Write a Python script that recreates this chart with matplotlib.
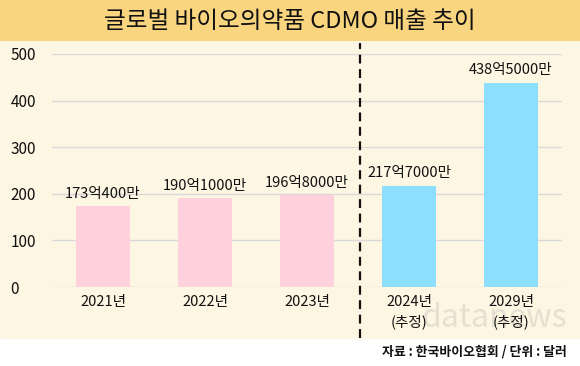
import matplotlib.pyplot as plt
from matplotlib.patches import Rectangle

plt.rcParams["font.family"] = ["Noto Sans CJK KR", "DejaVu Sans"]

years = ["2021년", "2022년", "2023년", "2024년\n(추정)", "2029년\n(추정)"]
sales = [173.04, 190.1, 196.8, 217.7, 438.5]
value_labels = ["173억400만", "190억1000만", "196억8000만", "217억7000만", "438억5000만"]
bar_colors = ["#FFD1DC", "#FFD1DC", "#FFD1DC", "#8CDFFF", "#8CDFFF"]
yticks = [0, 100, 200, 300, 400, 500]

W, H = 580, 366
fig = plt.figure(figsize=(W / 100, H / 100), dpi=100)
fig.patch.set_facecolor("white")

# cream panel and title banner
fig.patches.append(Rectangle((0, (H - 338) / H), 1, (338 - 42) / H,
                             transform=fig.transFigure, color="#FDF6E3", zorder=-2))
fig.patches.append(Rectangle((0, (H - 40) / H), 1, 40 / H,
                             transform=fig.transFigure, color="#F9D57F", zorder=-2))
fig.text(0.5, (H - 21) / H, "글로벌 바이오의약품 CDMO 매출 추이", ha="center", va="center",
         fontsize=17, fontweight="medium", color="#111111")

# faint watermark
fig.text(494 / W, (H - 318) / H, "datanews", ha="center", va="center",
         fontsize=23, color="#E6E0D2", zorder=-1)

ax = fig.add_axes([52 / W, (H - 287) / H, (562 - 52) / W, (287 - 54) / H])
ax.set_facecolor("none")
x = list(range(len(years)))
ax.bar(x, sales, width=0.52, color=bar_colors, zorder=2)
for xi, v, lab in zip(x, sales, value_labels):
    ax.text(xi, v + 12, lab, ha="center", va="bottom", fontsize=10.5,
            fontweight="medium", color="#111111")

ax.set_xlim(-0.5, 4.5)
ax.set_ylim(0, 500)
ax.set_yticks(yticks)
ax.set_yticklabels([str(t) for t in yticks], fontsize=11, fontweight="medium",
                   color="#111111", ha="left")
ax.set_xticks(x)
ax.set_xticklabels(years, fontsize=10.5, fontweight="medium", color="#111111",
                   linespacing=1.45)
ax.tick_params(axis="both", length=0)
ax.tick_params(axis="y", pad=30)
ax.tick_params(axis="x", pad=6)
ax.grid(axis="y", color="#D9D9D9", linewidth=1, zorder=1)
for s in ax.spines.values():
    s.set_visible(False)

# dashed divider between actual and estimate
ax.plot([2.52, 2.52], [-109, 523], color="#111111",
        linestyle=(0, (4, 2.5)), linewidth=1.6, clip_on=False, zorder=3)

fig.text(567 / W, (H - 352) / H, "자료 : 한국바이오협회 / 단위 : 달러", ha="right", va="center",
         fontsize=9.3, fontweight="bold", color="#111111")

fig.savefig("out.png", dpi=100)
